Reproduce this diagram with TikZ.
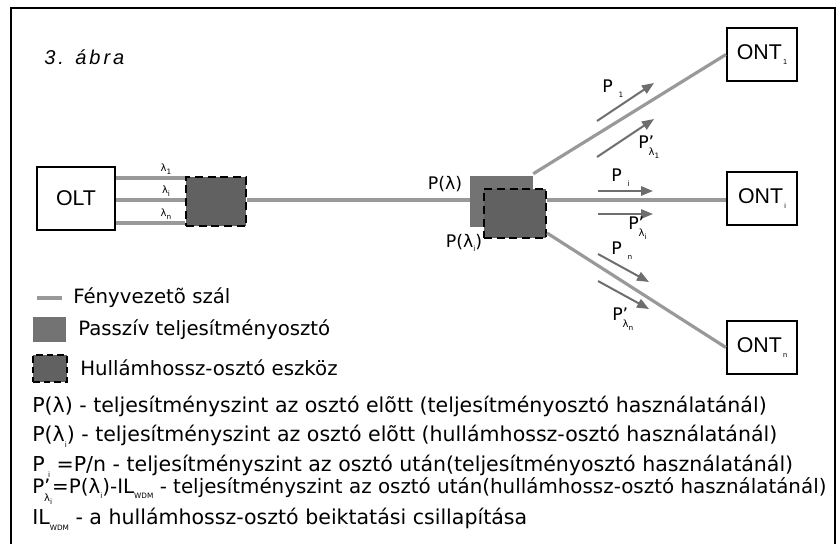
\documentclass[tikz,border=0pt]{standalone}
\usepackage{fontspec}
\setmainfont{DejaVu Sans}
\newfontfamily\arialf{Liberation Sans}
\newfontfamily\capf[LetterSpace=15]{Liberation Sans}
\usetikzlibrary{arrows.meta,calc}
\definecolor{fiber}{gray}{0.6}
\definecolor{splitgray}{gray}{0.45}
\definecolor{wdmgray}{gray}{0.38}
\definecolor{arrgray}{gray}{0.43}
\newcommand\sbx[1]{\raisebox{-0.5ex}{\fontsize{5.5}{6}\selectfont #1}}
\newcommand\plam[1]{P\rlap{’}\raisebox{-0.8ex}{\fontsize{7.5}{8}\selectfont λ\sbx{#1}}}
\begin{document}
\begin{tikzpicture}[x=0.75pt,y=-0.75pt,
  fiberline/.style={draw=fiber,line width=2.4pt},
  unitbox/.style={draw=black,line width=1.6pt,fill=white,inner sep=0pt,minimum width=52.5pt,minimum height=39.75pt,font=\arialf\fontsize{16}{18}\selectfont},
  wdmbox/.style={draw=black,line width=1.5pt,dash pattern=on 6pt off 3.5pt,fill=wdmgray,inner sep=0pt},
  splitbox/.style={fill=splitgray,inner sep=0pt},
  sig/.style={draw=arrgray,line width=1.5pt,-{Triangle[length=9pt,width=7pt]}},
  lbl/.style={inner sep=0pt,font=\fontsize{13}{15}\selectfont},
  lamlbl/.style={inner sep=0pt,font=\fontsize{7.5}{9}\selectfont},
  legtext/.style={anchor=west,inner sep=0pt,font=\fontsize{14.8}{17}\selectfont},
  desctext/.style={anchor=west,inner sep=0pt,font=\fontsize{15.4}{17}\selectfont},
]
\useasboundingbox (0,0) rectangle (836,544);
\draw[line width=1pt] (11,544) -- (11,8) -- (835,8) -- (835,544);

\node[anchor=west,inner sep=0pt,font=\capf\itshape\fontsize{15}{17}\selectfont] (title) at (44,57) {3. ábra};

% main nodes
\node[unitbox,minimum width=58.5pt,minimum height=47.25pt] (olt) at (76,198.5) {OLT};
\node[wdmbox,minimum width=45pt,minimum height=36.75pt] (wdm) at (216,201.5) {};
\node[splitbox,minimum width=47.25pt,minimum height=38.25pt] (split) at (501.5,201.5) {};
\node[wdmbox,minimum width=46.5pt,minimum height=36.75pt] (wdm2) at (515,213.5) {};
\node[unitbox] (ont1) at (762,54.5) {ONT\sbx{\,1}};
\node[unitbox] (onti) at (762,198.5) {ONT\sbx{\,i}};
\node[unitbox] (ontn) at (762,347.5) {ONT\sbx{\,n}};

% fibers OLT -> WDM
\coordinate (ly1) at (0,178);
\coordinate (ly2) at (0,200);
\coordinate (ly3) at (0,223);
\draw[fiberline] (olt.east |- ly1) -- (wdm.west |- ly1);
\draw[fiberline] (olt.east |- ly2) -- (wdm.west |- ly2);
\draw[fiberline] (olt.east |- ly3) -- (wdm.west |- ly3);
\node[lamlbl] (lam1) at (166,169) {λ\sbx{1}};
\node[lamlbl] (lami) at (166,191) {λ\sbx{i}};
\node[lamlbl] (lamn) at (166,214) {λ\sbx{n}};

\draw[fiberline] (wdm.east |- ly2) -- (split.west |- ly2);
\draw[fiberline] ($(split.north east)+(0,-2)$) -- (ont1.west);
\draw[fiberline] (wdm2.east |- ly2) -- (onti.west |- ly2);
\draw[fiberline] ($(wdm2.south east)+(0,-6)$) -- (ontn.west);

\node[lbl] (plam) at (445,184) {P(λ)};
\node[lbl] (plami) at (464,243) {P(λ\sbx{i})};

% signal arrows
\coordinate (a1s) at (597,121); \coordinate (a1e) at (654,83);
\coordinate (b1s) at (597,157); \coordinate (b1e) at (654,119);
\coordinate (a2s) at (598,191); \coordinate (a2e) at (653,191);
\coordinate (b2s) at (598,214); \coordinate (b2e) at (653,214);
\coordinate (a3s) at (598,254); \coordinate (a3e) at (649,282);
\coordinate (b3s) at (598,281); \coordinate (b3e) at (649,309);
\draw[sig] (a1s) -- (a1e);
\draw[sig] (b1s) -- (b1e);
\draw[sig] (a2s) -- (a2e);
\draw[sig] (b2s) -- (b2e);
\draw[sig] (a3s) -- (a3e);
\draw[sig] (b3s) -- (b3e);
\node[lbl,anchor=west] (p1) at (602,89) {P\,\,\sbx{1}};
\node[lbl,anchor=west] (pl1) at (638,147) {\plam{1}};
\node[lbl,anchor=west] (pi) at (611,178) {P\,\,\sbx{i}};
\node[lbl,anchor=west] (pli) at (628,228) {\plam{i}};
\node[lbl,anchor=west] (pn) at (611,251) {P\,\,\sbx{n}};
\node[lbl,anchor=west] (pln) at (612,319) {\plam{n}};

% legend
\coordinate (lg1) at (37,298); \coordinate (lg2) at (62,298);
\draw[fiberline] (lg1) -- (lg2);
\node[legtext] (t1) at (73,298) {Fényvezetõ szál};
\node[splitbox,minimum width=24.75pt,minimum height=18.75pt] (legsplit) at (49.5,329.5) {};
\node[legtext] (t2) at (78,330) {Passzív teljesítményosztó};
\node[wdmbox,minimum width=25.5pt,minimum height=20.25pt,dash pattern=on 5pt off 3pt] (legwdm) at (50,368.5) {};
\node[legtext] (t3) at (80,368) {Hullámhossz-osztó eszköz};

\node[desctext] (d1) at (32,406) {P(λ) - teljesítményszint az osztó elõtt (teljesítményosztó használatánál)};
\node[desctext] (d2) at (32,436) {P(λ\sbx{i}) - teljesítményszint az osztó elõtt (hullámhossz-osztó használatánál)};
\node[desctext] (d3) at (32,466) {P\,\sbx{i} =P/n  - teljesítményszint az osztó után(teljesítményosztó használatánál)};
\node[desctext,font=\fontsize{14.9}{17}\selectfont] (d4) at (32,491) {\plam{i}=P(λ\sbx{i})-IL\sbx{WDM} - teljesítményszint az osztó után(hullámhossz-osztó használatánál)};
\node[desctext] (d5) at (32,519) {IL\sbx{WDM} - a hullámhossz-osztó beiktatási csillapítása};
\end{tikzpicture}
\end{document}
